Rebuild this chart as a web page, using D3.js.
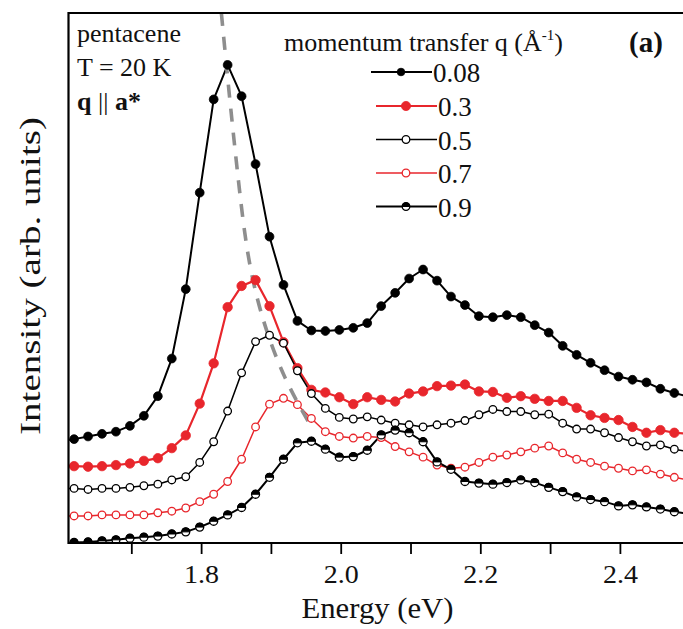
<!DOCTYPE html>
<html>
<head>
<meta charset="utf-8">
<script src="https://cdn.jsdelivr.net/npm/d3@7"></script>
<style>
  html, body { margin: 0; padding: 0; background: #fff; }
  svg { display: block; }
  text { font-family: "Liberation Serif", "Times New Roman", serif; fill: #111; }
</style>
</head>
<body>
<svg id="chart" width="683" height="629"></svg>
<script>
// ---- data ----
const energy = [1.598, 1.618, 1.638, 1.658, 1.678, 1.698, 1.718, 1.738, 1.758, 1.778,
  1.798, 1.818, 1.838, 1.858, 1.878, 1.898, 1.918, 1.938, 1.958, 1.978,
  1.998, 2.018, 2.038, 2.058, 2.078, 2.098, 2.118, 2.138, 2.158, 2.178,
  2.198, 2.218, 2.238, 2.258, 2.278, 2.298, 2.318, 2.338, 2.358, 2.378,
  2.398, 2.418, 2.438, 2.458, 2.478, 2.498];

const q008 = [1.92, 1.96, 2.01, 2.06, 2.10, 2.21, 2.40, 2.77, 3.48, 4.79, 6.61, 8.37, 9.02, 8.43, 7.15, 5.78,
  4.87, 4.19, 4.01, 4.00, 4.02, 4.06, 4.15, 4.47, 4.72, 4.99, 5.16, 4.95, 4.65, 4.49, 4.28, 4.26, 4.30, 4.26,
  4.11, 3.97, 3.72, 3.55, 3.40, 3.26, 3.14, 3.08, 3.03, 2.91, 2.83, 2.76];
const q03 = [1.45, 1.45, 1.44, 1.45, 1.47, 1.50, 1.55, 1.60, 1.79, 2.03, 2.63, 3.39, 4.45, 4.85, 4.96, 4.47,
  3.79, 3.30, 2.89, 2.84, 2.75, 2.62, 2.75, 2.70, 2.67, 2.82, 2.86, 2.96, 2.97, 2.99, 2.86, 2.85, 2.74, 2.77,
  2.72, 2.68, 2.68, 2.55, 2.41, 2.36, 2.32, 2.19, 2.08, 2.13, 2.08, 2.06];
const q05 = [1.03, 1.03, 1.01, 1.03, 1.03, 1.05, 1.08, 1.11, 1.19, 1.25, 1.52, 1.91, 2.49, 3.21, 3.80, 3.92,
  3.77, 3.25, 2.82, 2.54, 2.37, 2.34, 2.38, 2.32, 2.26, 2.23, 2.19, 2.23, 2.26, 2.31, 2.42, 2.52, 2.48, 2.48,
  2.42, 2.43, 2.26, 2.15, 2.15, 2.08, 1.99, 1.91, 1.83, 1.85, 1.77, 1.72];
const q07 = [0.51, 0.51, 0.51, 0.53, 0.53, 0.53, 0.53, 0.57, 0.60, 0.66, 0.78, 0.92, 1.16, 1.58, 2.19, 2.62,
  2.73, 2.61, 2.35, 2.10, 2.01, 1.98, 2.01, 1.99, 1.82, 1.72, 1.62, 1.47, 1.41, 1.43, 1.52, 1.62, 1.66, 1.72,
  1.79, 1.83, 1.70, 1.58, 1.52, 1.45, 1.41, 1.36, 1.38, 1.30, 1.24, 1.19];
const q09 = [-0.01, 0.01, 0.02, 0.04, 0.06, 0.09, 0.11, 0.13, 0.17, 0.21, 0.30, 0.41, 0.53, 0.67, 0.92, 1.24,
  1.58, 1.89, 1.92, 1.77, 1.62, 1.63, 1.75, 2.04, 2.13, 2.08, 1.91, 1.53, 1.39, 1.16, 1.13, 1.11, 1.14, 1.19,
  1.14, 1.05, 0.97, 0.87, 0.82, 0.78, 0.70, 0.72, 0.68, 0.64, 0.59, 0.55];

const seriesLabels = ["0.08", "0.3", "0.5", "0.7", "0.9"];
const seriesValues = [q008, q03, q05, q07, q09];

// dispersion guide (dashed grey curve)
const dashEnergy = [1.829, 1.841, 1.854, 1.865, 1.880, 1.900, 1.921, 1.940, 1.958];
const dashIntensity = [10.0, 8.36, 6.75, 5.53, 4.58, 3.74, 3.08, 2.60, 2.19];

const tickValues = [1.7, 1.8, 1.9, 2.0, 2.1, 2.2, 2.3, 2.4];
const majorTicks = [1.8, 2.0, 2.2, 2.4];

// ---- styles ----
const RED = "#e8262c";
const styles = [
  { stroke: "#000", width: 2,   marker: "filled", fill: "#000", r: 4.4, mstroke: "#000" },
  { stroke: RED,    width: 2.2, marker: "filled", fill: RED,    r: 4.7, mstroke: RED },
  { stroke: "#000", width: 1.5, marker: "open",   fill: "#fff", r: 3.8, mstroke: "#000" },
  { stroke: RED,    width: 1.5, marker: "open",   fill: "#fff", r: 3.8, mstroke: RED },
  { stroke: "#000", width: 2,   marker: "half",   fill: "#fff", r: 4.0, mstroke: "#000" }
];

(function draw() {
  const svg = d3.select("#chart");
  const pLeft = 68.5, pTop = 13, pBottom = 543, pRight = 689.7;
  const x = d3.scaleLinear().domain([1.61, 2.5]).range([pLeft, pRight]);
  const y = d3.scaleLinear().domain([0, 10]).range([pBottom, pTop]);

  svg.append("defs").append("clipPath").attr("id", "plotclip")
    .append("rect").attr("x", pLeft).attr("y", pTop).attr("width", pRight - pLeft).attr("height", pBottom - pTop);

  const plot = svg.append("g").attr("clip-path", "url(#plotclip)");
  const line = d3.line().x((d, i) => x(energy[i])).y(d => y(d));

  seriesValues.forEach((vals, si) => {
    const st = styles[si];
    plot.append("path").datum(vals)
      .attr("d", line)
      .attr("fill", "none")
      .attr("stroke", st.stroke)
      .attr("stroke-width", st.width)
      .attr("stroke-linejoin", "round");
  });

  const dashLine = d3.line().curve(d3.curveBasis)
    .x((d, i) => x(dashEnergy[i])).y(d => y(d));
  plot.append("path").datum(dashIntensity)
    .attr("d", dashLine)
    .attr("fill", "none")
    .attr("stroke", "#8e8e8e")
    .attr("stroke-width", 3.6)
    .attr("stroke-dasharray", "13,11");

  function drawMarker(g, st) {
    g.append("circle").attr("r", st.r)
      .attr("fill", st.fill)
      .attr("stroke", st.mstroke)
      .attr("stroke-width", st.marker === "filled" ? 0.8 : 1.3);
    if (st.marker === "half") {
      const r = st.r;
      g.append("path")
        .attr("d", `M${-r},0 A${r},${r} 0 0 1 ${r},0 Z`)
        .attr("fill", "#000").attr("stroke", "#000").attr("stroke-width", 1);
    }
  }

  seriesValues.forEach((vals, si) => {
    const st = styles[si];
    const g = plot.append("g");
    vals.forEach((v, i) => {
      const m = g.append("g").attr("transform", `translate(${x(energy[i])},${y(v)})`);
      drawMarker(m, st);
    });
  });

  const xAxis = d3.axisBottom(x)
    .tickValues(tickValues)
    .tickSize(11)
    .tickSizeOuter(0)
    .tickFormat(d => majorTicks.some(m => Math.abs(m - d) < 1e-9) ? d3.format(".1f")(d) : "");
  const ax = svg.append("g").attr("transform", `translate(0,${pBottom})`).call(xAxis);
  ax.select(".domain").remove();
  ax.selectAll(".tick line").attr("stroke", "#000").attr("stroke-width", 1.8);
  ax.selectAll(".tick text")
    .attr("y", 40).attr("dy", 0)
    .attr("font-size", 25)
    .attr("font-family", "Liberation Serif, Times New Roman, serif")
    .attr("fill", "#222")
    .each(function() {
      const t = d3.select(this);
      if (t.text()) t.attr("textLength", 35).attr("lengthAdjust", "spacingAndGlyphs");
    });

  svg.append("path")
    .attr("d", `M${pLeft},${pTop} H690 M${pLeft},${pTop - 1} V${pBottom + 1} M${pLeft - 1},${pBottom} H690`)
    .attr("fill", "none").attr("stroke", "#000").attr("stroke-width", 2.2);

  svg.append("text")
    .attr("x", 377.5).attr("y", 618)
    .attr("text-anchor", "middle")
    .attr("font-size", 29)
    .attr("fill", "#222")
    .attr("textLength", 152).attr("lengthAdjust", "spacingAndGlyphs")
    .text("Energy (eV)");

  svg.append("text")
    .attr("transform", "translate(40,276) rotate(-90)")
    .attr("text-anchor", "middle")
    .attr("font-size", 29)
    .attr("fill", "#222")
    .attr("textLength", 318).attr("lengthAdjust", "spacingAndGlyphs")
    .text("Intensity (arb. units)");

  svg.append("text").attr("x", 77).attr("y", 42).attr("font-size", 26).text("pentacene");
  svg.append("text").attr("x", 77).attr("y", 76).attr("font-size", 26).text("T = 20 K");
  const qa = svg.append("text").attr("x", 77).attr("y", 110).attr("font-size", 26);
  qa.append("tspan").attr("font-weight", "bold").text("q");
  qa.append("tspan").text(" || ");
  qa.append("tspan").attr("font-weight", "bold").text("a*");

  svg.append("text").attr("x", 629).attr("y", 52).attr("font-size", 29)
    .attr("font-weight", "bold").text("(a)");

  const title = svg.append("text").attr("x", 284).attr("y", 51).attr("font-size", 26);
  title.append("tspan").text("momentum transfer q (Å");
  title.append("tspan").attr("font-size", 15).attr("dy", -11).text("-1");
  title.append("tspan").attr("dy", 11).text(")");

  const legendRowsY = [72, 106, 139.5, 173, 206.5];
  seriesLabels.forEach((lab, i) => {
    const st = styles[i];
    const shift = i === 0 ? -5 : 0;
    const g = svg.append("g").attr("transform", `translate(${shift},${legendRowsY[i]})`);
    g.append("line").attr("x1", 376).attr("x2", 437).attr("y1", 0).attr("y2", 0)
      .attr("stroke", st.stroke).attr("stroke-width", st.width);
    const m = g.append("g").attr("transform", "translate(406,0)");
    drawMarker(m, Object.assign({}, st, { r: i === 1 ? 4.6 : 3.8 }));
    g.append("text").attr("x", 438).attr("y", 10).attr("font-size", 27).text(lab);
  });
})();
</script>
</body>
</html>
